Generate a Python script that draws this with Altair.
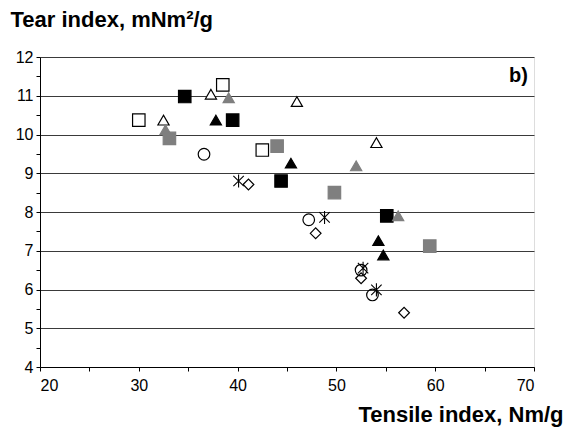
import altair as alt
import pandas as pd

# ---- data ----
open_sq_x = [30.0, 38.5, 42.5]
open_sq_y = [10.37, 11.28, 9.6]
open_tri_x = [32.5, 37.3, 46.0, 54.05]
open_tri_y = [10.37, 11.04, 10.85, 9.79]
black_sq_x = [34.65, 39.5, 44.4, 55.1]
black_sq_y = [10.98, 10.37, 8.8, 7.9]
black_tri_x = [37.8, 45.4, 54.25, 54.75]
black_tri_y = [10.37, 9.26, 7.26, 6.89]
gray_sq_x = [33.1, 44.0, 49.8, 59.45]
gray_sq_y = [9.9, 9.7, 8.5, 7.12]
gray_tri_x = [32.7, 39.1, 52.0, 56.25]
gray_tri_y = [10.12, 10.95, 9.19, 7.9]
circle_x = [36.6, 47.2, 52.5, 53.65]
circle_y = [9.49, 7.8, 6.5, 5.86]
diamond_x = [41.1, 47.9, 52.5, 56.85]
diamond_y = [8.71, 7.45, 6.29, 5.4]
star_x = [40.1, 48.8, 52.7, 54.05]
star_y = [8.8, 7.86, 6.55, 5.99]

x_ticks = [20, 25, 30, 35, 40, 45, 50, 55, 60, 65, 70]
y_ticks = [4, 4.5, 5, 5.5, 6, 6.5, 7, 7.5, 8, 8.5, 9, 9.5, 10, 10.5, 11, 11.5, 12]

FONT = "Liberation Sans"
GRAY = "#7f7f7f"
STAR = "M0,-1L0,1M-0.8,-0.8L0.8,0.8M-0.8,0.8L0.8,-0.8"

x_scale = alt.Scale(domain=[20, 70], nice=False, zero=False)
y_scale = alt.Scale(domain=[4, 12], nice=False, zero=False)

x_axis = alt.Axis(
    title="Tensile index, Nm/g", values=x_ticks,
    labelExpr="datum.value % 10 == 0 ? format(datum.value, 'd') : ''",
    grid=False, domainColor="#000", tickColor="#000", tickSize=4,
    labelFont=FONT, labelFontSize=16, labelColor="#000", labelPadding=6,
    titleFont=FONT, titleFontSize=22, titleFontWeight="bold", titleColor="#000",
    titleAnchor="end", titleAlign="right", titleX=523, titleY=54, titleBaseline="alphabetic",
)
y_axis = alt.Axis(
    title="Tear index, mNm²/g", values=y_ticks,
    labelExpr="datum.value % 1 == 0 ? format(datum.value, 'd') : ''",
    grid=True,
    gridColor={"condition": {"test": "datum.value % 1 !== 0", "value": "transparent"}, "value": "#3a3a3a"},
    gridWidth=1.2,
    domainColor="#000", tickColor="#000", tickSize=4,
    labelFont=FONT, labelFontSize=16, labelColor="#000", labelPadding=3,
    titleFont=FONT, titleFontSize=22, titleFontWeight="bold", titleColor="#000",
    titleAngle=0, titleAlign="left", titleX=-30, titleY=-31, titleBaseline="alphabetic",
)

def series(xs, ys, shape, fill, stroke, size, sw=1.2):
    df = pd.DataFrame({"x": xs, "y": ys})
    return alt.Chart(df).mark_point(
        shape=shape, filled=False, fill=fill, stroke=stroke, size=size,
        strokeWidth=sw, opacity=1, fillOpacity=1,
    ).encode(
        x=alt.X("x:Q", scale=x_scale, axis=x_axis),
        y=alt.Y("y:Q", scale=y_scale, axis=y_axis),
    )

layers = [
    series(circle_x, circle_y, "circle", "transparent", "#000", 135),
    series(diamond_x, diamond_y, "diamond", "transparent", "#000", 115),
    series(star_x, star_y, STAR, "transparent", "#000", 170, 1.1),
    series(open_sq_x, open_sq_y, "square", "white", "#000", 155),
    series(open_tri_x, open_tri_y, "triangle-up", "white", "#000", 125),
    series(black_sq_x, black_sq_y, "square", "#000", "#000", 155),
    series(black_tri_x, black_tri_y, "triangle-up", "#000", "#000", 125),
    series(gray_sq_x, gray_sq_y, "square", GRAY, GRAY, 155),
    series(gray_tri_x, gray_tri_y, "triangle-up", GRAY, GRAY, 125),
]

label = alt.Chart(pd.DataFrame({"t": ["b)"]})).mark_text(
    font=FONT, fontSize=20, fontWeight="bold", align="right", baseline="middle", color="#000"
).encode(text="t:N", x=alt.value(488), y=alt.value(19))

chart = alt.layer(*layers, label).properties(
    width=494, height=310,
    autosize=alt.AutoSizeParams(type="none"),
    padding={"left": 40, "top": 57, "right": 31, "bottom": 66},
).configure_view(stroke="#000", strokeWidth=1).configure(background="white")

chart.save("out.html", embed_options={"renderer": "svg", "actions": False})
